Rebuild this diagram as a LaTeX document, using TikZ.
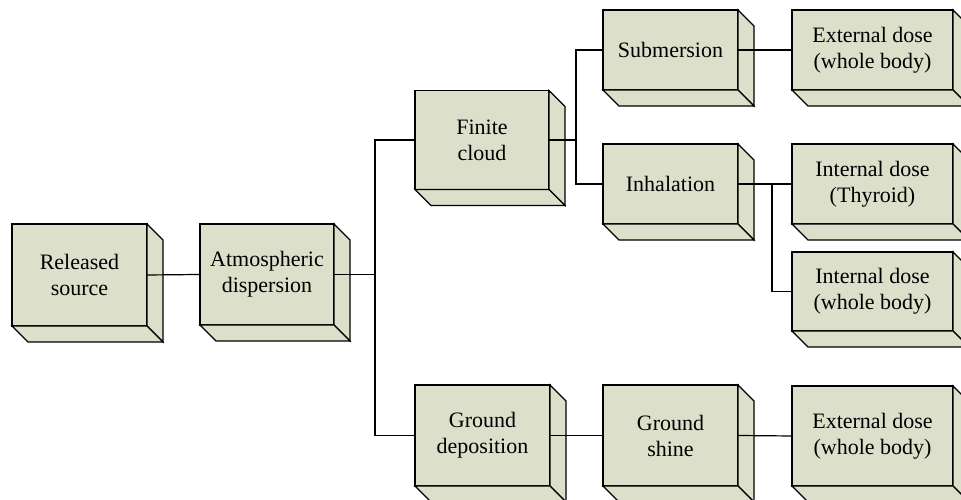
\documentclass[tikz,border=0pt]{standalone}
\usepackage{fontspec}
\setmainfont{Liberation Serif}
\definecolor{boxfill}{RGB}{220,224,203}
\begin{document}
\begin{tikzpicture}[x=1bp,y=1bp,
  line width=1.2bp,
  blk/.style={draw=black, fill=boxfill, rectangle, outer sep=0pt, inner sep=0pt,
    align=center, font=\fontsize{22bp}{26bp}\selectfont},
  face/.style={draw=black, fill=boxfill, line join=miter},
  conn/.style={draw=black, line width=1.2bp}]
\useasboundingbox (0,0) rectangle (961,500);
\clip (0,0) rectangle (961,500);
\def\d{16}
% front faces
\node[blk, minimum width=135bp, minimum height=102bp] (rs) at (79.5,225) {Released\\source};
\node[blk, minimum width=134bp, minimum height=101bp] (ad) at (267,225.5) {Atmospheric\\dispersion};
\node[blk, minimum width=134bp, minimum height=99bp] (fc) at (482,360) {Finite\\cloud};
\node[blk, minimum width=135bp, minimum height=101bp] (gd) at (482.5,64.5) {Ground\\deposition};
\node[blk, minimum width=135bp, minimum height=80bp] (sub) at (670.5,450) {Submersion};
\node[blk, minimum width=135bp, minimum height=80bp] (inh) at (670.5,316) {Inhalation};
\node[blk, minimum width=135bp, minimum height=101bp] (gs) at (670.5,64.5) {Ground\\shine};
\node[blk, minimum width=161bp, minimum height=80bp] (ext1) at (872.5,450) {External dose\\(whole body)};
\node[blk, minimum width=161bp, minimum height=80bp] (int1) at (872.5,316) {Internal dose\\(Thyroid)};
\node[blk, minimum width=161bp, minimum height=79bp] (int2) at (872.5,208.5) {Internal dose\\(whole body)};
\node[blk, minimum width=161bp, minimum height=100bp] (ext2) at (872.5,64) {External dose\\(whole body)};
% depth faces
\foreach \n in {rs,ad,fc,gd,sub,inh,gs,ext1,int1,int2,ext2}{
  \path[face] (\n.north east) -- ++(\d,-\d) -- ([shift={(\d,-\d)}]\n.south east) -- (\n.south east) -- cycle;
  \path[face] (\n.south west) -- ++(\d,-\d) -- ([shift={(\d,-\d)}]\n.south east) -- (\n.south east) -- cycle;
}
% junctions
\coordinate (j1) at (375,225.5);
\coordinate (j2) at (576,360);
\coordinate (j3) at (772,316);
% connectors
\draw[conn] (rs.east) -- (ad.west);
\draw[conn] (ad.east) -- (j1);
\draw[conn] (fc.west) -| (j1) |- (gd.west);
\draw[conn] (fc.east) -- (j2);
\draw[conn] (sub.west) -| (j2) |- (inh.west);
\draw[conn] (sub.east) -- (ext1.west);
\draw[conn] (inh.east) -- (int1.west);
\draw[conn] (j3) |- (int2.west);
\draw[conn] (gd.east) -- (gs.west);
\draw[conn] (gs.east) -- (ext2.west);
\end{tikzpicture}
\end{document}
